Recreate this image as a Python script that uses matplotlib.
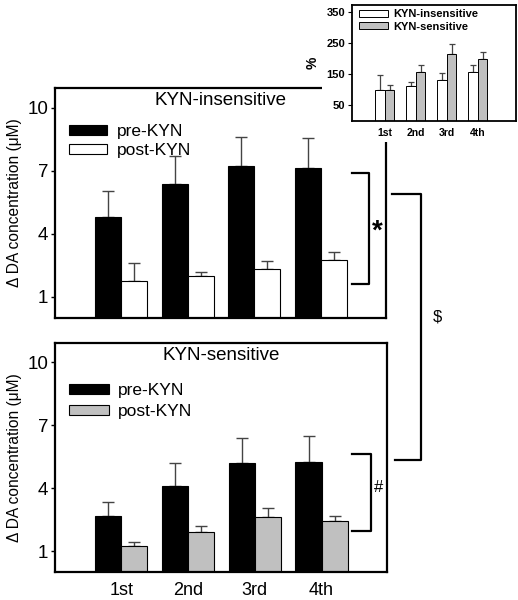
import numpy as np
import matplotlib
matplotlib.use("Agg")
import matplotlib.pyplot as plt
from matplotlib.patches import Rectangle
from matplotlib.lines import Line2D

plt.rcParams['font.family'] = ['Liberation Sans', 'DejaVu Sans']

# Data
sessions = ['1st', '2nd', '3rd', '4th']

insens_pre = [4.81, 6.38, 7.20, 7.14]
insens_pre_err = [1.22, 1.33, 1.38, 1.42]
insens_post = [1.77, 2.00, 2.34, 2.74]
insens_post_err = [0.83, 0.20, 0.37, 0.41]

sens_pre = [2.69, 4.11, 5.22, 5.27]
sens_pre_err = [0.63, 1.11, 1.16, 1.24]
sens_post = [1.24, 1.91, 2.64, 2.42]
sens_post_err = [0.19, 0.27, 0.40, 0.27]

pct_insens = [100, 112, 133, 156]
pct_insens_err = [47, 13, 20, 22]
pct_sens = [100, 157, 216, 200]
pct_sens_err = [17, 21, 32, 21]

gray = '#c0c0c0'
errc = '#444444'
W, H = 518, 600

fig = plt.figure(figsize=(W / 100, H / 100), dpi=100)
fig.patch.set_facecolor('white')


def px(x0, y0, x1, y1):
    # pixel box (top-left origin) -> figure fraction rect
    return [x0 / W, 1 - y1 / H, (x1 - x0) / W, (y1 - y0) / H]


def panel(rect, pre, pre_err, post, post_err, post_color, title, show_x):
    ax = fig.add_axes(rect)
    x = np.arange(len(sessions))
    w = 0.39
    zeros = np.zeros(len(x))
    ax.bar(x - w / 2, pre, w, color='black', edgecolor='black', linewidth=0.8,
           label='pre-KYN', zorder=2)
    ax.bar(x + w / 2, post, w, color=post_color, edgecolor='black', linewidth=0.8,
           label='post-KYN', zorder=2)
    ax.errorbar(x - w / 2, pre, yerr=[zeros, pre_err], fmt='none', ecolor=errc,
                elinewidth=1, capsize=4, capthick=1, zorder=1)
    ax.errorbar(x + w / 2, post, yerr=[zeros, post_err], fmt='none', ecolor=errc,
                elinewidth=1, capsize=4, capthick=1, zorder=1)
    ax.set_xlim(-0.99, 3.98)
    ax.set_ylim(0, 10.93)
    ax.set_yticks([1, 4, 7, 10])
    ax.tick_params(axis='y', labelsize=13.5, length=3, width=1, pad=2)
    ax.set_xticks(x)
    if show_x:
        ax.set_xticklabels(sessions, fontsize=13)
    else:
        ax.set_xticklabels([])
    ax.tick_params(axis='x', length=0, pad=7)
    for s in ax.spines.values():
        s.set_linewidth(1.6)
    ax.set_ylabel('\u0394 DA concentration (\u03bcM)', fontsize=11.2, labelpad=4)
    ax.text(0.5, 0.945, title, transform=ax.transAxes, ha='center', va='center',
            fontsize=13.5)
    return ax


ax1 = panel(px(55, 88, 386, 318), insens_pre, insens_pre_err, insens_post,
            insens_post_err, 'white', 'KYN-insensitive', False)
ax1.legend(loc='upper left', bbox_to_anchor=(0.01, 0.89), frameon=False, fontsize=12.5,
           handlelength=2.2, handleheight=0.5, handletextpad=0.55, labelspacing=0.25,
           borderaxespad=0.2)

ax2 = panel(px(55, 343, 387, 572), sens_pre, sens_pre_err, sens_post,
            sens_post_err, gray, 'KYN-sensitive', True)
ax2.legend(loc='upper left', bbox_to_anchor=(0.01, 0.87), frameon=False, fontsize=12.5,
           handlelength=2.3, handleheight=0.5, handletextpad=0.55, labelspacing=0.35,
           borderaxespad=0.2)

# white area behind the inset (hides the top-right of the upper panel)
fig.add_artist(Rectangle((322 / W, 1 - 142 / H), 1, 142 / H, transform=fig.transFigure,
                         facecolor='white', edgecolor='none', zorder=1))

# inset: percent of first session
ax3 = fig.add_axes(px(352, 5, 516, 121))
ax3.set_zorder(2)
xi = np.arange(len(sessions))
wi = 0.31
zi = np.zeros(len(xi))
ax3.bar(xi - wi / 2, pct_insens, wi, color='white', edgecolor='black', linewidth=0.7,
        label='KYN-insensitive', zorder=2)
ax3.bar(xi + wi / 2, pct_sens, wi, color=gray, edgecolor='black', linewidth=0.7,
        label='KYN-sensitive', zorder=2)
ax3.errorbar(xi - wi / 2, pct_insens, yerr=[zi, pct_insens_err], fmt='none', ecolor=errc,
             elinewidth=0.9, capsize=2.5, capthick=0.9, zorder=1)
ax3.errorbar(xi + wi / 2, pct_sens, yerr=[zi, pct_sens_err], fmt='none', ecolor=errc,
             elinewidth=0.9, capsize=2.5, capthick=0.9, zorder=1)
ax3.set_xlim(-1.06, 4.23)
ax3.set_ylim(0, 372)
ax3.set_yticks([50, 150, 250, 350])
ax3.set_xticks(xi)
ax3.set_xticklabels(sessions, fontsize=7.5, fontweight='bold')
ax3.tick_params(axis='x', length=0, pad=5)
ax3.tick_params(axis='y', labelsize=8, length=3, width=0.8, pad=2)
for lab in ax3.get_yticklabels():
    lab.set_fontweight('bold')
for s in ax3.spines.values():
    s.set_linewidth(1.3)
ax3.set_ylabel('%', fontsize=10, fontweight='bold', labelpad=5)
ax3.legend(loc='upper left', bbox_to_anchor=(0.0, 1.02), frameon=False,
           prop={'size': 8, 'weight': 'bold'}, handlelength=2.6, handleheight=0.55,
           handletextpad=0.5, labelspacing=0.2, borderaxespad=0.2)


def bracket(x_out, x_in, y_top, y_bot, x_out2=None):
    if x_out2 is None:
        x_out2 = x_out
    xs = [x_out / W, x_in / W, x_in / W, x_out2 / W]
    ys = [1 - y_top / H, 1 - y_top / H, 1 - y_bot / H, 1 - y_bot / H]
    fig.add_artist(Line2D(xs, ys, color='black', linewidth=1.6, zorder=3))


bracket(352, 369, 173, 284)
fig.text(377 / W, 1 - 232 / H, '*', fontsize=20, fontweight='bold', ha='center', va='center')
bracket(352, 371, 454, 531)
fig.text(379 / W, 1 - 487 / H, '#', fontsize=12, ha='center', va='center')
bracket(392, 421, 194, 460, x_out2=395)
fig.text(437 / W, 1 - 317 / H, '$', fontsize=12, ha='center', va='center')

plt.savefig('out.png', dpi=100, facecolor='white')
plt.close()
